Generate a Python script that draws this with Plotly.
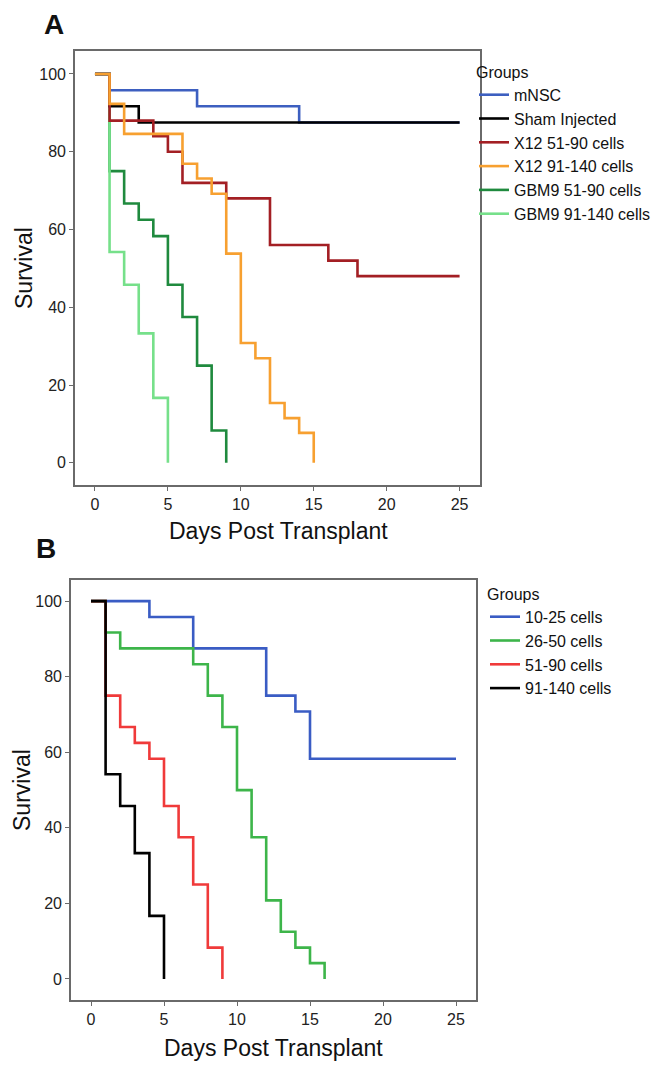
import plotly.graph_objects as go

# ---------- PANEL A data (Kaplan-Meier steps) ----------
a_groups = ["mNSC", "Sham Injected", "X12 51-90 cells", "X12 91-140 cells",
            "GBM9 51-90 cells", "GBM9 91-140 cells"]
a_colors = ["#3d5fc0", "#000000", "#a31f24", "#f7a030", "#1f8a3e", "#76e08a"]

a_days = {
    "mNSC": [0, 1, 7, 14, 25],
    "Sham Injected": [0, 1, 3, 25],
    "X12 51-90 cells": [0, 1, 4, 5, 6, 9, 12, 16, 18, 25],
    "X12 91-140 cells": [0, 1, 2, 6, 7, 8, 9, 10, 11, 12, 13, 14, 15],
    "GBM9 51-90 cells": [0, 1, 2, 3, 4, 5, 6, 7, 8, 9],
    "GBM9 91-140 cells": [0, 1, 2, 3, 4, 5],
}
a_surv = {
    "mNSC": [100, 95.8, 91.7, 87.5, 87.5],
    "Sham Injected": [100, 91.7, 87.5, 87.5],
    "X12 51-90 cells": [100, 88, 84, 80, 72, 68, 56, 52, 48, 48],
    "X12 91-140 cells": [100, 92.3, 84.6, 76.9, 73.1, 69.2, 53.8, 30.8, 26.9, 15.4, 11.5, 7.7, 0],
    "GBM9 51-90 cells": [100, 75, 66.7, 62.5, 58.3, 45.8, 37.5, 25, 8.3, 0],
    "GBM9 91-140 cells": [100, 54.2, 45.8, 33.3, 16.7, 0],
}
# drawing order (last on top)
a_draw = ["GBM9 51-90 cells", "GBM9 91-140 cells", "mNSC", "Sham Injected",
          "X12 51-90 cells", "X12 91-140 cells"]

# ---------- PANEL B data ----------
b_groups = ["10-25 cells", "26-50 cells", "51-90 cells", "91-140 cells"]
b_colors = ["#3a5cc4", "#3db54a", "#f03a3a", "#000000"]

b_days = {
    "10-25 cells": [0, 4, 7, 12, 14, 15, 25],
    "26-50 cells": [0, 1, 2, 7, 8, 9, 10, 11, 12, 13, 14, 15, 16],
    "51-90 cells": [0, 1, 2, 3, 4, 5, 6, 7, 8, 9],
    "91-140 cells": [0, 1, 2, 3, 4, 5],
}
b_surv = {
    "10-25 cells": [100, 95.8, 87.5, 75, 70.8, 58.3, 58.3],
    "26-50 cells": [100, 91.7, 87.5, 83.3, 75, 66.7, 50, 37.5, 20.8, 12.5, 8.3, 4.2, 0],
    "51-90 cells": [100, 75, 66.7, 62.5, 58.3, 45.8, 37.5, 25, 8.3, 0],
    "91-140 cells": [100, 54.2, 45.8, 33.3, 16.7, 0],
}

x_ticks = [0, 5, 10, 15, 20, 25]
y_ticks = [0, 20, 40, 60, 80, 100]

FONT = "Liberation Sans, Arial, sans-serif"
W, H = 666, 1067

fig = go.Figure()

for name in a_draw:
    i = a_groups.index(name)
    fig.add_trace(go.Scatter(
        x=a_days[name], y=a_surv[name], name=name, mode="lines",
        line=dict(color=a_colors[i], width=2.6, shape="hv"),
        legend="legend", legendrank=i + 1,
        xaxis="x", yaxis="y",
    ))

for i, name in enumerate(b_groups):
    fig.add_trace(go.Scatter(
        x=b_days[name], y=b_surv[name], name=name, mode="lines",
        line=dict(color=b_colors[i], width=2.6, shape="hv"),
        legend="legend2", legendrank=i + 1,
        xaxis="x2", yaxis="y2",
    ))

axis_common = dict(
    showline=True, mirror=True, linecolor="#6a6a6a", linewidth=1.6,
    showgrid=False, zeroline=False, ticks="outside", ticklen=4,
    tickcolor="#6a6a6a", tickwidth=1,
    tickfont=dict(family=FONT, size=16, color="#222222"),
)

legend_common = dict(
    xanchor="left", yanchor="top",
    title=dict(text="Groups", font=dict(family=FONT, size=16)),
    font=dict(family=FONT, size=16, color="#111111"),
    bgcolor="rgba(0,0,0,0)", itemwidth=30,
)

fig.update_layout(
    width=W, height=H,
    margin=dict(l=0, r=0, t=0, b=0),
    plot_bgcolor="white", paper_bgcolor="white",
    font=dict(family=FONT, color="#111111"),
    xaxis=dict(domain=[67 / W, 472 / W], range=[-1.37, 26.4],
               tickvals=x_ticks, anchor="y", **axis_common),
    yaxis=dict(domain=[1 - 477 / H, 1 - 43 / H], range=[-5.7, 105.9],
               tickvals=y_ticks, anchor="x", **axis_common),
    xaxis2=dict(domain=[63 / W, 468 / W], range=[-1.37, 26.37],
                tickvals=x_ticks, anchor="y2", **axis_common),
    yaxis2=dict(domain=[1 - 992 / H, 1 - 572 / H], range=[-5.56, 105.6],
                tickvals=y_ticks, anchor="x2", **axis_common),
    legend=dict(x=466 / W, y=1 - 49 / H, **legend_common),
    legend2=dict(x=477 / W, y=1 - 571 / H, **legend_common),
)

# panel letters and axis titles
notes = [
    ("<b>A</b>", 46, 17, 28, 0),
    ("<b>B</b>", 38, 540, 28, 0),
    ("Days Post Transplant", 270, 523, 23, 0),
    ("Days Post Transplant", 265, 1040, 23, 0),
    ("Survival", 16, 260, 23, -90),
    ("Survival", 14, 782, 23, -90),
]
for text, px, py, size, ang in notes:
    fig.add_annotation(
        text=text, x=px / W, y=1 - py / H, xref="paper", yref="paper",
        showarrow=False, xanchor="center", yanchor="middle", textangle=ang,
        font=dict(family=FONT, size=size, color="#111111"),
    )

fig.write_html("out.html")
